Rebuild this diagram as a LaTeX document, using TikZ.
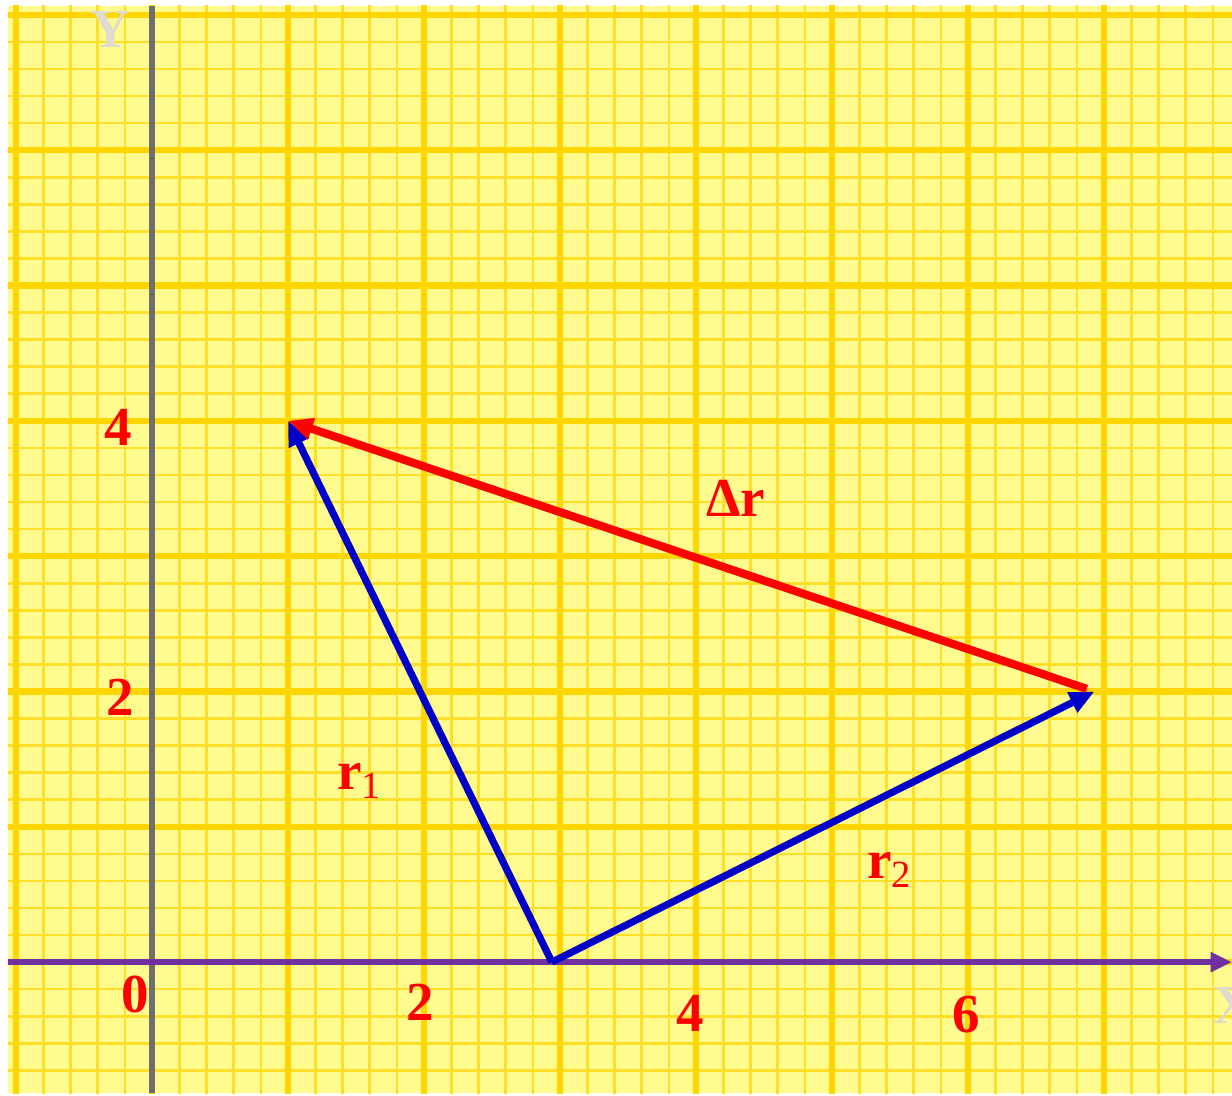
\documentclass[tikz,border=0pt]{standalone}
\usepackage{fontspec}
\setmainfont{Liberation Serif}
\usetikzlibrary{
    arrows.meta,
    calc
}
\definecolor{paper}{RGB}{255,251,143}
\definecolor{gridminor}{RGB}{255,222,40}
\definecolor{gridmajor}{RGB}{255,214,0}
\definecolor{xaxiscol}{RGB}{112,48,160}
\definecolor{yaxiscol}{RGB}{110,110,110}
\definecolor{veccol}{RGB}{0,0,200}
\definecolor{axisname}{RGB}{224,220,205}
\tikzset{
  minorline/.style={
    gridminor,
    line width=0.55pt
  },
  majorline/.style={
    gridmajor,
    line width=1.3pt
  },
  vecarrow/.style={
    line width=1.5pt,
    -{Triangle[length=5.2pt,width=4.4pt]}
  },
  numlabel/.style={
    text=red,
    inner sep=0pt,
    font=\fontsize{11.5}{13}\selectfont\bfseries
  },
  axisname/.style={
    text=axisname,
    inner sep=0pt,
    font=\fontsize{11.5}{13}\selectfont\bfseries
  }
}

\begin{document}
\begin{tikzpicture}[x=1cm,y=0.995cm]
    \useasboundingbox (-1.118,-0.983) rectangle (7.941,7.11);

    % graph paper
    \fill[paper] (-1.06,-0.97) rectangle (7.941,7.066);
    \begin{scope}
      \clip (-1.06,-0.97) rectangle (7.941,7.066);
      \draw[minorline] (-1.2,-1.2) grid[step=0.2] (8.1,7.2);
      \draw[majorline] (-1.2,-1.2) grid[step=1] (8.1,7.2);
    \end{scope}

    % axes
    \draw[yaxiscol,line width=1.1pt] (0,-0.97) -- (0,7.066);
    \draw[xaxiscol,line width=1.1pt,-{Triangle[length=4.5pt,width=4pt]}]
        (-1.06,0) -- (7.941,0);
    \node[axisname,anchor=west] (xname) at (7.8,-0.32) {X};
    \node[axisname] (yname) at (-0.31,6.89) {Y};

    % tick numbers
    \node[numlabel] (n0) at (-0.125,-0.24) {0};
    \node[numlabel] (nx2) at (1.97,-0.30) {2};
    \node[numlabel] (nx4) at (3.96,-0.38) {4};
    \node[numlabel] (nx6) at (5.99,-0.39) {6};
    \node[numlabel] (ny2) at (-0.235,1.96) {2};
    \node[numlabel] (ny4) at (-0.25,3.95) {4};

    % points
    \coordinate (O) at (2.94,0);
    \coordinate (A) at (1,4);
    \coordinate (B) at (6.93,2);

    % vectors
    \draw[veccol,vecarrow] (O) -- (A);
    \draw[veccol,vecarrow] (O) -- (B);
    \draw[red,vecarrow,line width=1.7pt,shorten <=0.6mm] (B) -- (A);

    % labels
    \node[numlabel] (lr1) at (1.53,1.34) {r\textsubscript{\mdseries 1}};
    \node[numlabel] (lr2) at (5.43,0.68) {r\textsubscript{\mdseries 2}};
    \node[numlabel] (ldr) at (4.29,3.43) {Δr};
\end{tikzpicture}
\end{document}
